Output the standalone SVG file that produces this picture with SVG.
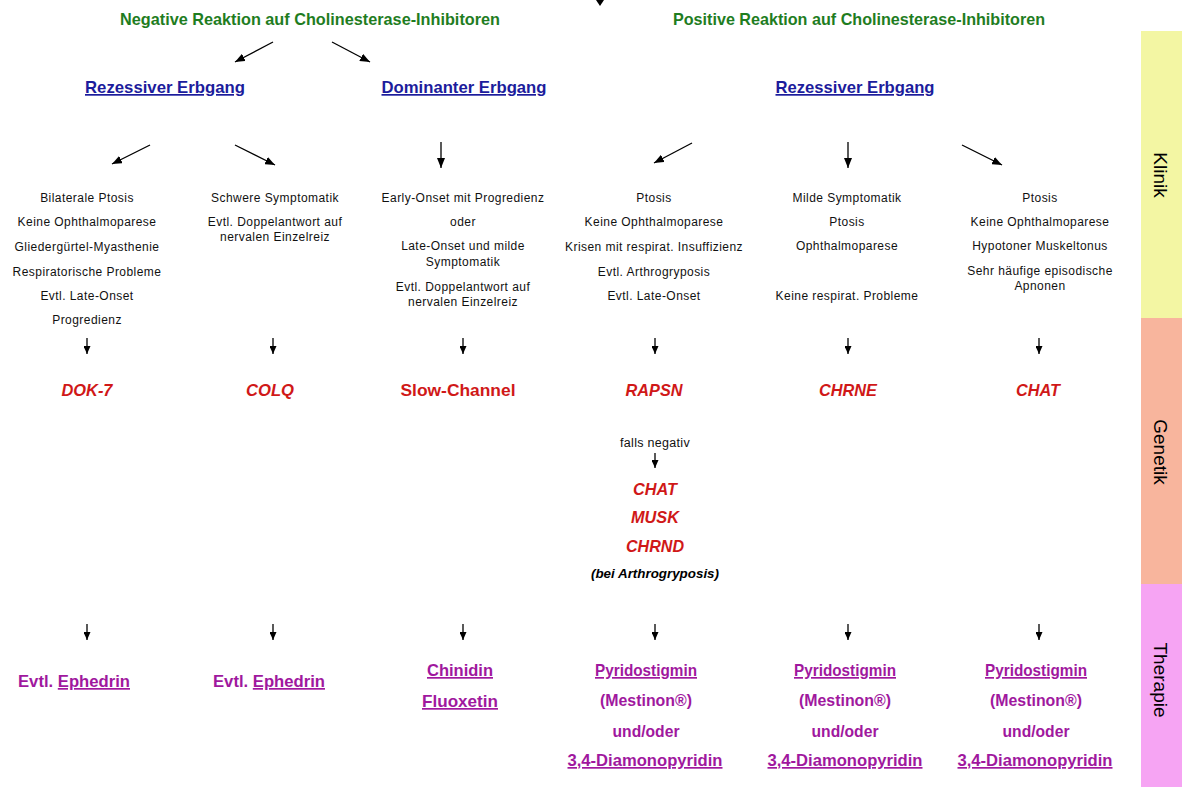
<svg xmlns="http://www.w3.org/2000/svg" width="1182" height="787" viewBox="0 0 1182 787">
<defs>
<marker id="ah" markerUnits="userSpaceOnUse" markerWidth="10" markerHeight="8" refX="10" refY="4" orient="auto"><path d="M0,0 L10,4 L0,8 z" fill="#000"/></marker>
<marker id="ahs" markerUnits="userSpaceOnUse" markerWidth="8" markerHeight="7" refX="8" refY="3.5" orient="auto"><path d="M0,0 L8,3.5 L0,7 z" fill="#000"/></marker>
<style>
.hd{font-family:"Liberation Sans Narrow","Liberation Sans",Arial,sans-serif;font-weight:bold;font-size:17px;fill:#1f7d1f;text-anchor:middle}
.er{font-family:"Liberation Sans Narrow","Liberation Sans",Arial,sans-serif;font-weight:bold;font-size:17px;fill:#1c1c9c;text-anchor:middle;text-decoration:underline}
.kl{font-family:"Liberation Sans",Arial,sans-serif;font-size:12px;letter-spacing:0.45px;fill:#111;text-anchor:middle}
.ge{font-family:"Liberation Sans Narrow","Liberation Sans",Arial,sans-serif;font-weight:bold;font-style:italic;font-size:17px;fill:#d01818;text-anchor:middle}
.th{font-family:"Liberation Sans Narrow","Liberation Sans",Arial,sans-serif;font-weight:bold;font-size:17px;fill:#a0189e;text-anchor:middle}
.u{text-decoration:underline}
.sb{font-family:"Liberation Sans",Arial,sans-serif;font-size:19px;fill:#000;text-anchor:middle}
.ln{stroke:#000;stroke-width:1.3;fill:none}
</style>
</defs>
<rect width="1182" height="787" fill="#fff"/>
<g id="sidebar">
<rect x="1141" y="31" width="41" height="287" fill="#f3f6a3"/>
<rect x="1141" y="318" width="41" height="266" fill="#f8b59d"/>
<rect x="1141" y="584" width="41" height="203" fill="#f6a4f3"/>
<text class="sb" transform="translate(1154,175) rotate(90)">Klinik</text>
<text class="sb" transform="translate(1154,452) rotate(90)">Genetik</text>
<text class="sb" transform="translate(1154,680) rotate(90)">Therapie</text>
</g>
<g id="connectors">
<path d="M600,-6 L600,1" class="ln"/>
<path d="M596,0 L604,0 L600,6 z" fill="#000"/>
<line class="ln" x1="273" y1="42" x2="235" y2="62" marker-end="url(#ah)"/>
<line class="ln" x1="332" y1="42" x2="370" y2="62" marker-end="url(#ah)"/>
<line class="ln" x1="150" y1="145" x2="112" y2="164" marker-end="url(#ah)"/>
<line class="ln" x1="235" y1="145" x2="275" y2="165" marker-end="url(#ah)"/>
<line class="ln" x1="441" y1="142" x2="441" y2="168" marker-end="url(#ah)"/>
<line class="ln" x1="692" y1="143" x2="654" y2="163" marker-end="url(#ah)"/>
<line class="ln" x1="848" y1="142" x2="848" y2="168" marker-end="url(#ah)"/>
<line class="ln" x1="962" y1="145" x2="1002" y2="165" marker-end="url(#ah)"/>
<g id="arrows-genetik">
<line class="ln" x1="87" y1="338" x2="87" y2="354" marker-end="url(#ahs)"/>
<line class="ln" x1="273" y1="338" x2="273" y2="354" marker-end="url(#ahs)"/>
<line class="ln" x1="463" y1="338" x2="463" y2="354" marker-end="url(#ahs)"/>
<line class="ln" x1="655" y1="338" x2="655" y2="354" marker-end="url(#ahs)"/>
<line class="ln" x1="848" y1="338" x2="848" y2="354" marker-end="url(#ahs)"/>
<line class="ln" x1="1039" y1="338" x2="1039" y2="354" marker-end="url(#ahs)"/>
<line class="ln" x1="655" y1="453" x2="655" y2="468" marker-end="url(#ahs)"/>
</g>
<g id="arrows-therapie">
<line class="ln" x1="87" y1="624" x2="87" y2="640" marker-end="url(#ahs)"/>
<line class="ln" x1="273" y1="624" x2="273" y2="640" marker-end="url(#ahs)"/>
<line class="ln" x1="463" y1="624" x2="463" y2="640" marker-end="url(#ahs)"/>
<line class="ln" x1="655" y1="624" x2="655" y2="640" marker-end="url(#ahs)"/>
<line class="ln" x1="848" y1="624" x2="848" y2="640" marker-end="url(#ahs)"/>
<line class="ln" x1="1039" y1="624" x2="1039" y2="640" marker-end="url(#ahs)"/>
</g>
</g>
<g id="neg-heading"><text class="hd" x="310" y="25" textLength="380" lengthAdjust="spacingAndGlyphs">Negative Reaktion auf Cholinesterase-Inhibitoren</text></g>
<g id="pos-heading"><text class="hd" x="859" y="25" textLength="372" lengthAdjust="spacingAndGlyphs">Positive Reaktion auf Cholinesterase-Inhibitoren</text></g>
<g id="rez-left"><text class="er" x="165" y="93" textLength="160" lengthAdjust="spacingAndGlyphs">Rezessiver Erbgang</text></g>
<g id="dom"><text class="er" x="464" y="93" textLength="165" lengthAdjust="spacingAndGlyphs">Dominanter Erbgang</text></g>
<g id="rez-right"><text class="er" x="855" y="93" textLength="159" lengthAdjust="spacingAndGlyphs">Rezessiver Erbgang</text></g>
<g id="klinik-1">
<text class="kl" x="87" y="202">Bilaterale Ptosis</text>
<text class="kl" x="87" y="226">Keine Ophthalmoparese</text>
<text class="kl" x="87" y="251">Gliedergürtel-Myasthenie</text>
<text class="kl" x="87" y="276">Respiratorische Probleme</text>
<text class="kl" x="87" y="300">Evtl. Late-Onset</text>
<text class="kl" x="87" y="324">Progredienz</text>
</g>
<g id="klinik-2">
<text class="kl" x="275" y="202">Schwere Symptomatik</text>
<text class="kl" x="275" y="226">Evtl. Doppelantwort auf</text>
<text class="kl" x="275" y="241">nervalen Einzelreiz</text>
</g>
<g id="klinik-3">
<text class="kl" x="463" y="202">Early-Onset mit Progredienz</text>
<text class="kl" x="463" y="226">oder</text>
<text class="kl" x="463" y="250">Late-Onset und milde</text>
<text class="kl" x="463" y="266">Symptomatik</text>
<text class="kl" x="463" y="291">Evtl. Doppelantwort auf</text>
<text class="kl" x="463" y="306">nervalen Einzelreiz</text>
</g>
<g id="klinik-4">
<text class="kl" x="654" y="202">Ptosis</text>
<text class="kl" x="654" y="226">Keine Ophthalmoparese</text>
<text class="kl" x="654" y="251">Krisen mit respirat. Insuffizienz</text>
<text class="kl" x="654" y="276">Evtl. Arthrogryposis</text>
<text class="kl" x="654" y="300">Evtl. Late-Onset</text>
</g>
<g id="klinik-5">
<text class="kl" x="847" y="202">Milde Symptomatik</text>
<text class="kl" x="847" y="226">Ptosis</text>
<text class="kl" x="847" y="250">Ophthalmoparese</text>
<text class="kl" x="847" y="300">Keine respirat. Probleme</text>
</g>
<g id="klinik-6">
<text class="kl" x="1040" y="202">Ptosis</text>
<text class="kl" x="1040" y="226">Keine Ophthalmoparese</text>
<text class="kl" x="1040" y="250">Hypotoner Muskeltonus</text>
<text class="kl" x="1040" y="275">Sehr häufige episodische</text>
<text class="kl" x="1040" y="290">Apnonen</text>
</g>
<g id="gen-dok7"><text class="ge" x="87" y="396" textLength="51" lengthAdjust="spacingAndGlyphs">DOK-7</text></g>
<g id="gen-colq"><text class="ge" x="270" y="396" textLength="48" lengthAdjust="spacingAndGlyphs">COLQ</text></g>
<g id="gen-slow"><text class="ge" x="458" y="396" style="font-style:normal" textLength="115" lengthAdjust="spacingAndGlyphs">Slow-Channel</text></g>
<g id="gen-rapsn"><text class="ge" x="654" y="396" textLength="57" lengthAdjust="spacingAndGlyphs">RAPSN</text></g>
<g id="gen-chrne"><text class="ge" x="848" y="396" textLength="58" lengthAdjust="spacingAndGlyphs">CHRNE</text></g>
<g id="gen-chat"><text class="ge" x="1038" y="396" textLength="44" lengthAdjust="spacingAndGlyphs">CHAT</text></g>
<g id="gen-fallback">
<text class="kl" x="655" y="447" style="font-size:12.5px;letter-spacing:0.3px">falls negativ</text>
<text class="ge" x="655" y="495" textLength="44" lengthAdjust="spacingAndGlyphs">CHAT</text>
<text class="ge" x="655" y="523" textLength="48" lengthAdjust="spacingAndGlyphs">MUSK</text>
<text class="ge" x="655" y="552" textLength="58" lengthAdjust="spacingAndGlyphs">CHRND</text>
<text class="ge" x="655" y="578" style="fill:#000;font-size:12px" textLength="128" lengthAdjust="spacingAndGlyphs">(bei Arthrogryposis)</text>
</g>
<g id="ther-1"><text class="th" x="74" y="687" textLength="112" lengthAdjust="spacingAndGlyphs">Evtl. <tspan class="u">Ephedrin</tspan></text></g>
<g id="ther-2"><text class="th" x="269" y="687" textLength="112" lengthAdjust="spacingAndGlyphs">Evtl. <tspan class="u">Ephedrin</tspan></text></g>
<g id="ther-3">
<text class="th u" x="460" y="676" textLength="66" lengthAdjust="spacingAndGlyphs">Chinidin</text>
<text class="th u" x="460" y="707" textLength="76" lengthAdjust="spacingAndGlyphs">Fluoxetin</text>
</g>
<g id="ther-4">
<text class="th u" x="646" y="676" textLength="102" lengthAdjust="spacingAndGlyphs">Pyridostigmin</text>
<text class="th" x="646" y="706" textLength="92" lengthAdjust="spacingAndGlyphs">(Mestinon®)</text>
<text class="th" x="646" y="737" textLength="67" lengthAdjust="spacingAndGlyphs">und/oder</text>
<text class="th u" x="645" y="766" textLength="155" lengthAdjust="spacingAndGlyphs">3,4-Diamonopyridin</text>
</g>
<g id="ther-5">
<text class="th u" x="845" y="676" textLength="102" lengthAdjust="spacingAndGlyphs">Pyridostigmin</text>
<text class="th" x="845" y="706" textLength="92" lengthAdjust="spacingAndGlyphs">(Mestinon®)</text>
<text class="th" x="845" y="737" textLength="67" lengthAdjust="spacingAndGlyphs">und/oder</text>
<text class="th u" x="845" y="766" textLength="155" lengthAdjust="spacingAndGlyphs">3,4-Diamonopyridin</text>
</g>
<g id="ther-6">
<text class="th u" x="1036" y="676" textLength="102" lengthAdjust="spacingAndGlyphs">Pyridostigmin</text>
<text class="th" x="1036" y="706" textLength="92" lengthAdjust="spacingAndGlyphs">(Mestinon®)</text>
<text class="th" x="1036" y="737" textLength="67" lengthAdjust="spacingAndGlyphs">und/oder</text>
<text class="th u" x="1035" y="766" textLength="155" lengthAdjust="spacingAndGlyphs">3,4-Diamonopyridin</text>
</g>
</svg>
